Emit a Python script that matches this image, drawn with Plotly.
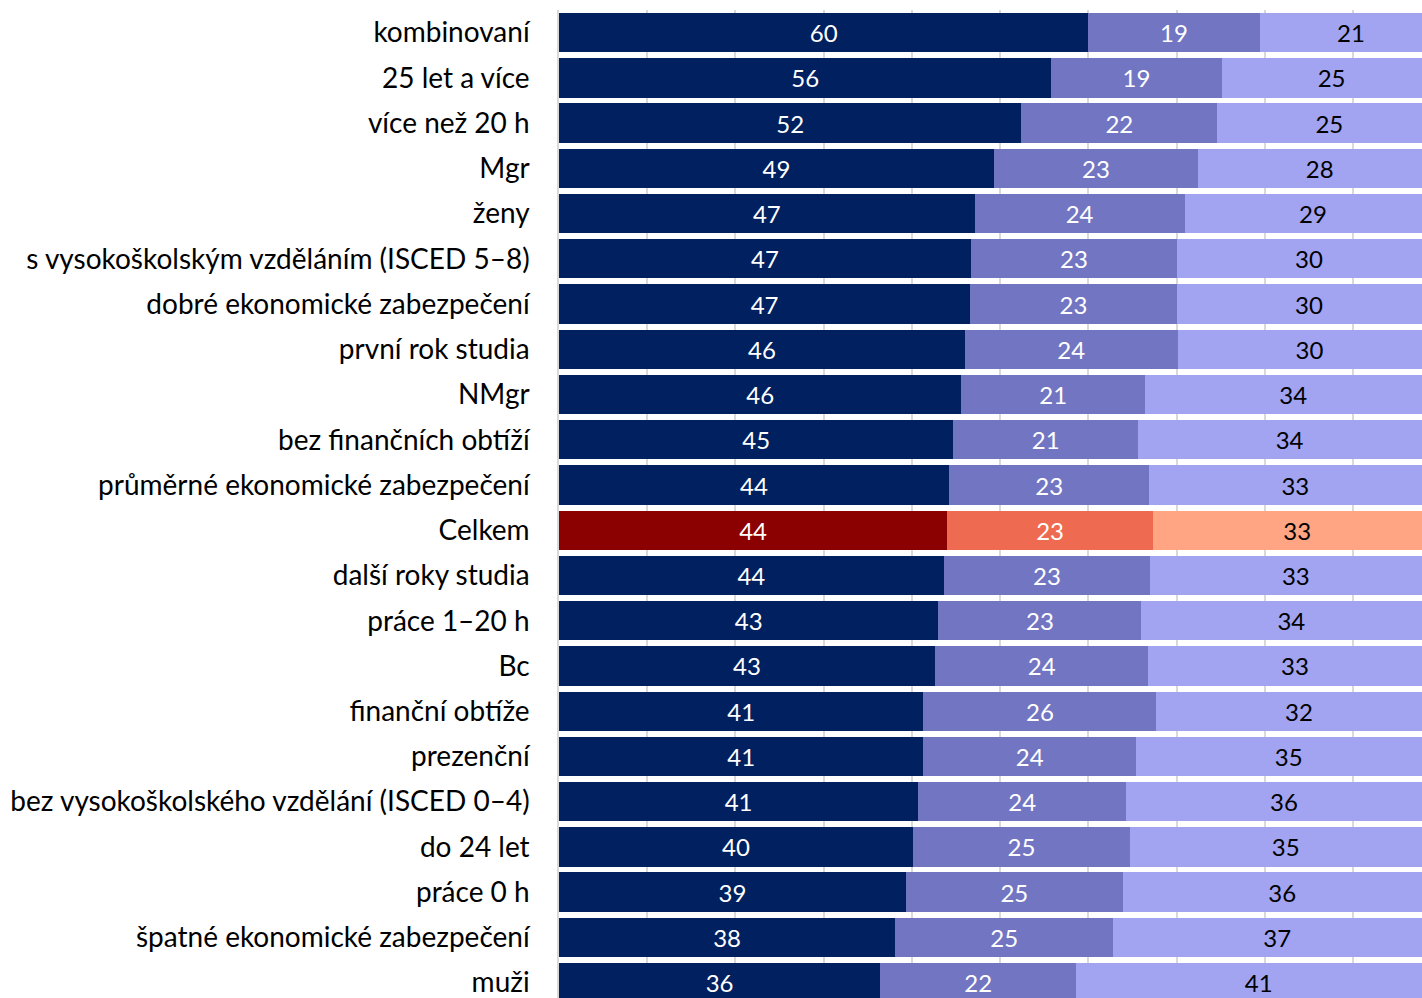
import plotly.graph_objects as go

categories = [
    "kombinovaní", "25 let a více", "více než 20 h", "Mgr", "ženy",
    "s vysokoškolským vzděláním (ISCED 5–8)", "dobré ekonomické zabezpečení",
    "první rok studia", "NMgr", "bez finančních obtíží",
    "průměrné ekonomické zabezpečení", "Celkem", "další roky studia",
    "práce 1–20 h", "Bc", "finanční obtíže", "prezenční",
    "bez vysokoškolského vzdělání (ISCED 0–4)", "do 24 let", "práce 0 h",
    "špatné ekonomické zabezpečení", "muži",
]
s1 = [60.0, 55.8, 52.4, 49.3, 47.1, 46.7, 46.6, 46.0, 45.6, 44.7, 44.2, 44.0,
      43.6, 43.0, 42.6, 41.3, 41.3, 40.7, 40.1, 39.3, 38.1, 36.4]
s2 = [19.4, 19.3, 22.2, 23.1, 23.8, 23.3, 23.4, 24.1, 20.8, 20.9, 22.7, 23.3,
      23.4, 23.0, 24.2, 26.4, 24.1, 23.6, 24.6, 24.6, 24.7, 22.2]
s3 = [20.7, 24.9, 25.4, 27.6, 29.1, 30.0, 30.0, 29.9, 33.6, 34.4, 33.1, 32.7,
      33.0, 34.0, 33.2, 32.3, 34.6, 35.7, 35.3, 36.1, 37.2, 41.4]
highlight = "Celkem"

c1, c2, c3 = "#002060", "#7276C2", "#A2A4F2"
h1, h2, h3 = "#8B0000", "#EE6A50", "#FFA584"

FONT = "Lato"

def cols(base, hi):
    return [hi if c == highlight else base for c in categories]

fig = go.Figure()
for vals, base, hi, tcol in [(s1, c1, h1, "white"), (s2, c2, h2, "white"), (s3, c3, h3, "black")]:
    fig.add_trace(go.Bar(
        y=categories, x=vals, orientation="h",
        marker=dict(color=cols(base, hi), line=dict(width=0)),
        texttemplate="%{x:.0f}", textposition="inside", insidetextanchor="middle",
        textangle=0, constraintext="none",
        textfont=dict(family=FONT, size=24, color=tcol),
        showlegend=False,
    ))

fig.update_layout(
    barmode="stack", bargap=0.13,
    width=1422, height=998,
    margin=dict(l=559, r=0, t=10, b=0),
    plot_bgcolor="white", paper_bgcolor="white",
    font=dict(family=FONT, size=28, color="black"),
    xaxis=dict(range=[0, 97.8], dtick=10, showgrid=True, gridcolor="#D9D9D9",
               gridwidth=1.5, showticklabels=False, zeroline=False,
               showline=False, ticks=""),
    yaxis=dict(categoryorder="array", categoryarray=categories,
               range=[21.34, -0.5], showline=True, linecolor="#D9D9D9",
               linewidth=1.5, ticks="", ticklabelstandoff=22,
               tickfont=dict(family=FONT, size=28, color="black")),
)
fig.write_html(
    "out.html",
    config={"displayModeBar": False},
    post_script="document.body.style.margin='0';document.body.style.overflow='hidden';",
)
